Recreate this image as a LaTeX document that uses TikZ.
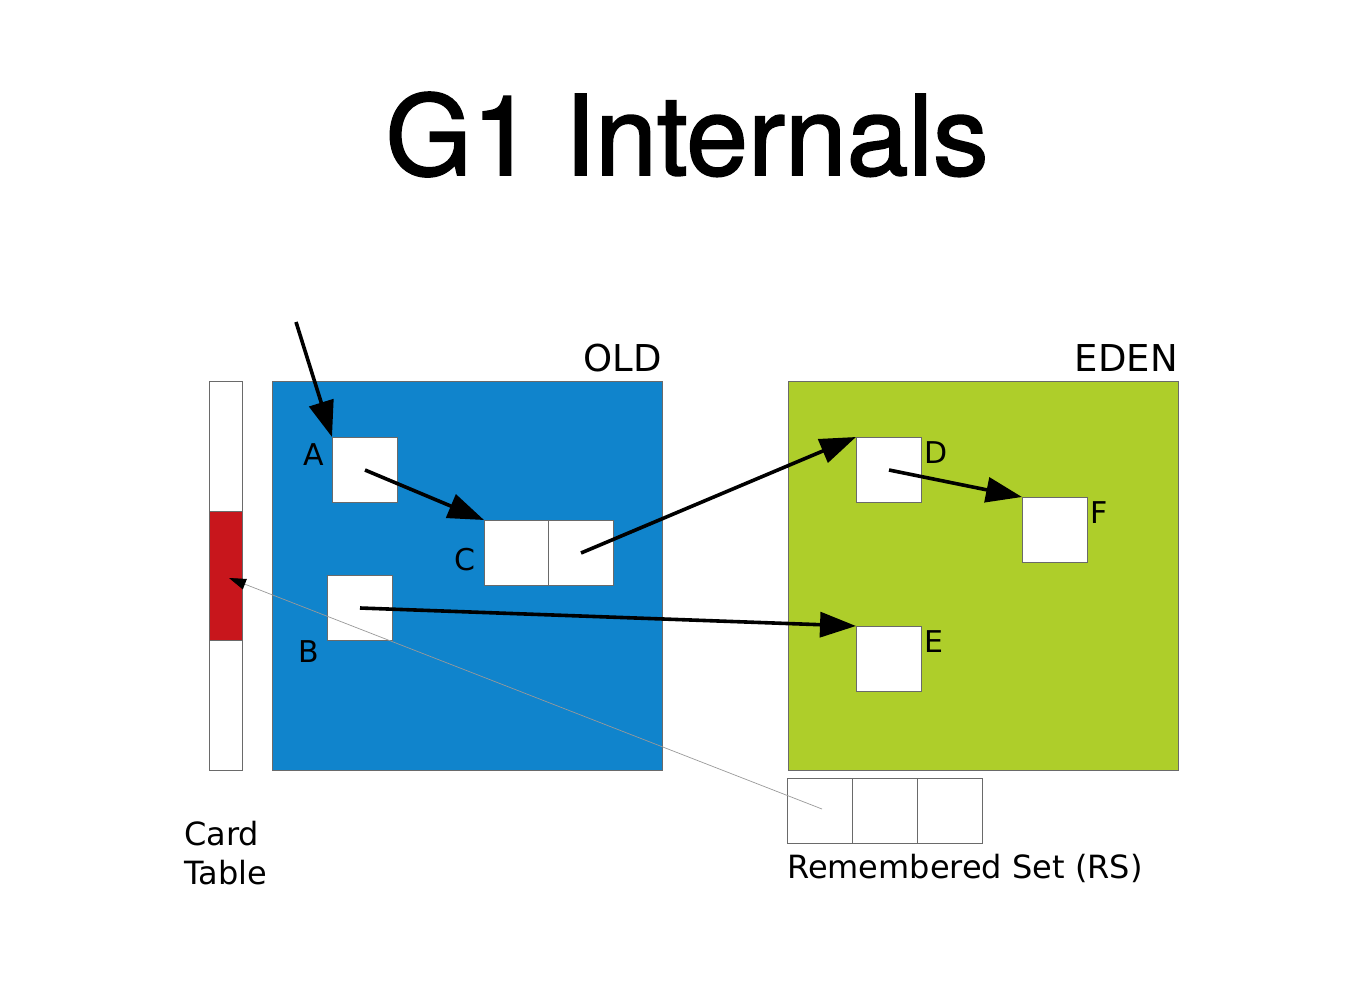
\documentclass[tikz,border=0pt]{standalone}
\usepackage{fontspec}
\setmainfont{DejaVu Sans}
\newfontfamily\titlefont[FakeBold=1.6]{TeX Gyre Heros}
\usetikzlibrary{arrows.meta}
\definecolor{oldblue}{HTML}{1084CC}
\definecolor{edengreen}{HTML}{AECE2A}
\definecolor{cardred}{HTML}{C8161C}
\definecolor{edgegray}{HTML}{6A6A6A}
\begin{document}
\begin{tikzpicture}[x=1pt,y=-1pt,
  region/.style={draw=edgegray, line width=1pt, inner sep=0pt, anchor=north west},
  obj/.style={draw=edgegray, line width=1pt, fill=white, inner sep=0pt, minimum width=65, minimum height=65, anchor=north west},
  lbl/.style={font=\fontsize{30}{35}\selectfont, inner sep=0pt},
  reglbl/.style={font=\fontsize{37}{44}\selectfont, inner sep=0pt, anchor=base east},
  captxt/.style={font=\fontsize{32}{38}\selectfont, inner sep=0pt, anchor=base west},
  refarrow/.style={line width=3.6pt, -{Triangle[length=36pt,width=25pt]}},
  thinref/.style={draw=gray!80, line width=0.7pt, -{Triangle[length=17pt,width=11pt,color=black]}}
]
\useasboundingbox (0,0) rectangle (1356,992);
% title
\node[font=\titlefont\fontsize{111}{130}\selectfont, inner sep=0pt, anchor=base] (title) at (687,175) {G1 Internals};
% card table
\node[region, fill=white, minimum width=33, minimum height=389] (card) at (209,381) {};
\node[region, fill=cardred, minimum width=33, minimum height=129] (red) at (209,511) {};
% regions
\node[region, fill=oldblue, minimum width=390, minimum height=389] (old) at (272,381) {};
\node[region, fill=edengreen, minimum width=390, minimum height=389] (eden) at (788,381) {};
\node[reglbl] (oldlbl) at (662,371) {OLD};
\node[reglbl] (edenlbl) at (1178,371) {EDEN};
% objects
\node[obj] (A) at (332,437) {};
\node[obj] (C1) at (484,520) {};
\node[obj] (C2) at (548,520) {};
\node[obj] (B) at (327,575) {};
\node[obj] (D) at (856,437) {};
\node[obj] (F) at (1022,497) {};
\node[obj] (E) at (856,626) {};
% remembered set
\node[obj] (RS1) at (787,778) {};
\node[obj] (RS2) at (852,778) {};
\node[obj] (RS3) at (917,778) {};
% labels
\node[lbl] (Al) at (314,455) {A};
\node[lbl] (Cl) at (465,560) {C};
\node[lbl] (Bl) at (309,652) {B};
\node[lbl] (Dl) at (936,453) {D};
\node[lbl] (Fl) at (1099,513) {F};
\node[lbl] (El) at (934,642) {E};
\node[captxt] (cardlbl) at (184,845) {Card};
\node[captxt] (tablelbl) at (184,884) {Table};
\node[captxt] (rslbl) at (787,878) {Remembered Set (RS)};
% connectors
\coordinate (root) at (296,322);
\draw[refarrow] (root) -- (A.north west);
\draw[refarrow] (A.center) -- (C1.north west);
\draw[refarrow] (C2.center) -- (D.north west);
\draw[refarrow] (B.center) -- (E.north west);
\draw[refarrow] (D.center) -- (F.north west);
\coordinate (rsstart) at (822,809);
\coordinate (cardpt) at (229,578);
\draw[thinref] (rsstart) -- (cardpt);
\end{tikzpicture}
\end{document}
